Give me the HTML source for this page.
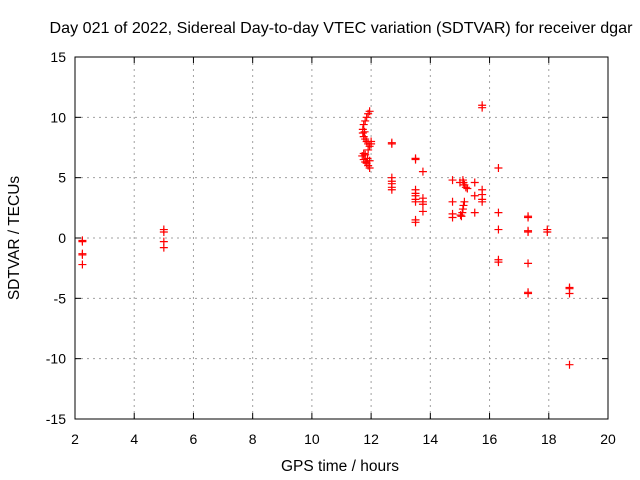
<!DOCTYPE html>
<html><head><meta charset="utf-8"><style>
body{margin:0;background:#fff}
svg{display:block;font-family:"Liberation Sans",sans-serif;font-size:14px}
</style></head><body>
<svg id="chart" width="640" height="480">
<rect width="640" height="480" fill="#fff"/>
<text x="341" y="33" text-anchor="middle" style="font-size:16.1px">Day 021 of 2022, Sidereal Day-to-day VTEC variation (SDTVAR) for receiver dgar</text>
<g id="grid"></g>
<g id="axes"></g>
<g id="marks"></g>
<text x="340" y="471" text-anchor="middle" style="font-size:15.5px">GPS time / hours</text>
<text transform="translate(19,238) rotate(-90)" text-anchor="middle" style="font-size:15.5px">SDTVAR / TECUs</text>
</svg>
<script>
const xTicks=[2,4,6,8,10,12,14,16,18,20];
const yTicks=[-15,-10,-5,0,5,10,15];
const hours=[2.25,2.25,2.25,2.25,2.25, 5,5,5,5,
11.95,11.9,11.85,11.8,11.75,11.72,11.72,11.75,11.8,11.85,11.9,11.95,11.9,11.75,11.7,11.75,11.8,11.85,11.9,11.95,11.95,11.8,12.0,12.0,11.78,11.88,
12.7,12.7,12.7,12.7,12.7,12.7,12.7,
13.5,13.5,13.5,13.5,13.5,13.5,13.5,13.5,13.5,
13.75,13.75,13.75,13.75,13.75,
14.75,14.75,14.75,14.75,
15.1,15.12,15.15,15.2,15.25,15.15,15.12,15.1,15.08,15.05,15.0,15.02,
15.5,15.5,15.5,
15.75,15.75,15.75,15.75,15.75,15.75,
16.3,16.3,16.3,16.3,16.3,
17.3,17.3,17.3,17.3,17.3,17.3,17.3,
17.95,17.95,
18.7,18.7,18.7,18.7];
const values=[-0.3,-0.2,-1.3,-1.4,-2.2, 0.7,0.5,-0.3,-0.8,
10.5,10.3,10.0,9.7,9.4,9.0,8.7,8.4,8.2,8.0,7.8,7.6,7.3,7.0,6.8,6.5,6.3,6.2,6.0,5.8,6.4,6.9,7.8,8.0,8.8,6.6,
7.9,7.8,5.0,4.7,4.5,4.2,4.0,
6.6,6.5,4.0,3.7,3.5,3.2,3.0,1.5,1.3,
5.5,3.3,3.0,2.8,2.2,
4.8,3.0,2.0,1.7,
4.8,4.6,4.4,4.2,4.1,3.0,2.7,2.4,2.1,1.8,4.6,1.9,
4.6,3.5,2.1,
11.0,10.8,4.0,3.6,3.2,3.0,
5.8,2.1,0.7,-1.8,-2.0,
1.8,1.7,0.6,0.5,-2.1,-4.5,-4.6,
0.7,0.5,
-4.2,-4.1,-4.6,-10.5];
const L=75,R=608,T=57,B=419;
const X=v=>L+(v-2)/18*(R-L), Y=v=>B-(v+15)/30*(B-T);
const NS="http://www.w3.org/2000/svg";
function mk(p,t,a){const e=document.createElementNS(NS,t);for(const k in a)e.setAttribute(k,a[k]);p.appendChild(e);return e;}
const grid=document.getElementById('grid'),axes=document.getElementById('axes'),marks=document.getElementById('marks');
xTicks.forEach(t=>{const x=X(t);
 if(t>2&&t<20){const g=mk(grid,'line',{x1:x,x2:x,y1:T,y2:B,stroke:'#a0a0a0','stroke-dasharray':'2,4'});
 
 }
 mk(axes,'line',{x1:x,x2:x,y1:B,y2:B-6,stroke:'#000'});mk(axes,'line',{x1:x,x2:x,y1:T,y2:T+6,stroke:'#000'});
 const tx=mk(axes,'text',{x:x,y:B+25,'text-anchor':'middle'});tx.textContent=t;
 
 });
yTicks.forEach(t=>{const y=Y(t);
 if(t>-15&&t<15){const g=mk(grid,'line',{x1:L,x2:R,y1:y,y2:y,stroke:'#a0a0a0','stroke-dasharray':'2,4'});
 
 }
 mk(axes,'line',{x1:L,x2:L+6,y1:y,y2:y,stroke:'#000'});mk(axes,'line',{x1:R,x2:R-6,y1:y,y2:y,stroke:'#000'});
 const tx=mk(axes,'text',{x:L-9,y:y+5,'text-anchor':'end'});tx.textContent=t;
 
 });
mk(axes,'rect',{x:L,y:T,width:R-L,height:B-T,fill:'none',stroke:'#000'});
hours.forEach((h,i)=>{const x=X(h),y=Y(values[i]);
 const p=mk(marks,'path',{d:`M${x-4},${y}h8M${x},${y-4}v8`,stroke:'#ff0000','stroke-width':1.2});
 
 });
</script>
</body></html>
